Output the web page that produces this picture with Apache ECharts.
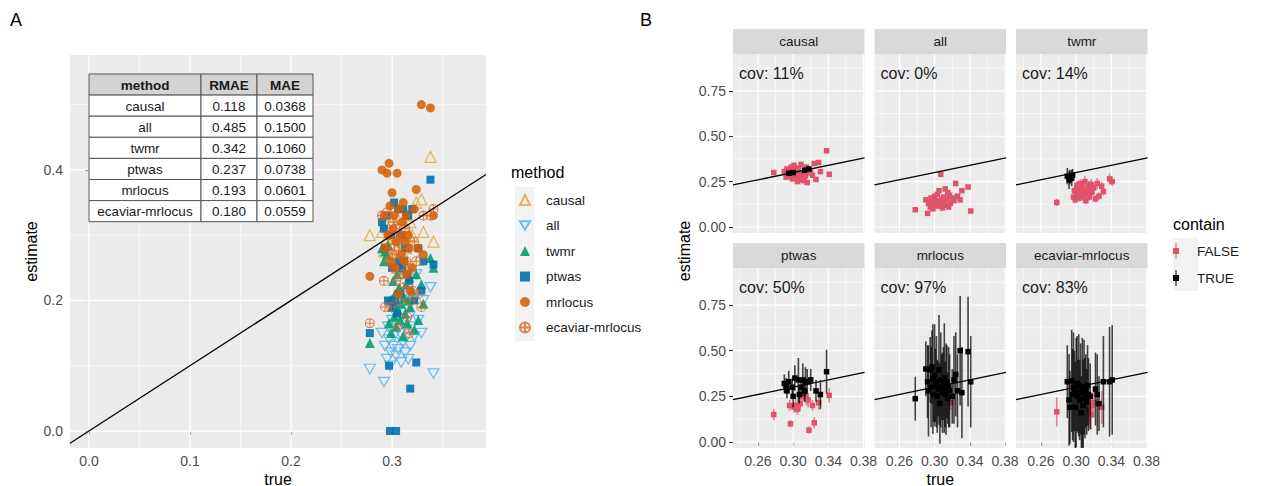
<!DOCTYPE html>
<html><head><meta charset="utf-8">
<script src="https://cdn.jsdelivr.net/npm/echarts@6/dist/echarts.min.js"></script>
<style>html,body{margin:0;padding:0;background:#fff}#c{width:1266px;height:486px}</style>
</head><body><div id="c"></div>
<script>
// ---------------- DATA ----------------
const methods = ['causal', 'all', 'twmr', 'ptwas', 'mrlocus', 'ecaviar-mrlocus'];
const tableRMAE = ['0.118', '0.485', '0.342', '0.237', '0.193', '0.180'];
const tableMAE = ['0.0368', '0.1500', '0.1060', '0.0738', '0.0601', '0.0559'];
const covLabels = ['cov: 11%', 'cov: 0%', 'cov: 14%', 'cov: 50%', 'cov: 97%', 'cov: 83%'];
const containLevels = ['FALSE', 'TRUE'];

const trueVals = [0.278,0.290,0.292,0.293,0.295,0.296,0.297,0.298,0.299,0.300,0.301,0.302,0.303,0.304,0.305,0.306,0.307,0.308,0.309,0.310,0.311,0.312,0.313,0.314,0.315,0.316,0.317,0.318,0.320,0.322,0.324,0.326,0.329,0.331,0.338,0.341];

const estCausal = [0.300,0.305,0.275,0.320,0.296,0.310,0.280,0.330,0.265,0.300,0.340,0.285,0.270,0.315,0.250,0.325,0.290,0.260,0.345,0.275,0.290,0.255,0.313,0.280,0.330,0.245,0.300,0.320,0.300,0.285,0.350,0.262,0.355,0.305,0.420,0.290];
const ciCausal = [0.007,0.007,0.007,0.007,0.007,0.007,0.007,0.007,0.007,0.007,0.007,0.007,0.007,0.007,0.007,0.007,0.007,0.007,0.007,0.007,0.007,0.007,0.007,0.007,0.007,0.007,0.007,0.007,0.007,0.007,0.007,0.007,0.007,0.007,0.007,0.007];

const estAll = [0.095,0.150,0.075,0.130,0.110,0.160,0.140,0.100,0.120,0.170,0.130,0.145,0.180,0.115,0.200,0.125,0.290,0.150,0.105,0.165,0.135,0.210,0.120,0.155,0.190,0.110,0.175,0.130,0.160,0.145,0.240,0.170,0.150,0.200,0.220,0.088];
const ciAll = [0.006,0.006,0.006,0.006,0.006,0.006,0.006,0.006,0.006,0.006,0.006,0.006,0.006,0.006,0.006,0.006,0.006,0.006,0.006,0.006,0.006,0.006,0.006,0.006,0.006,0.006,0.006,0.006,0.006,0.006,0.006,0.006,0.006,0.006,0.006,0.006];

const estTwmr = [0.135,0.280,0.260,0.275,0.270,0.285,0.165,0.200,0.150,0.190,0.230,0.175,0.210,0.160,0.240,0.185,0.220,0.170,0.195,0.250,0.145,0.205,0.180,0.225,0.165,0.200,0.235,0.190,0.215,0.155,0.240,0.170,0.225,0.195,0.265,0.250];
const ciTwmr = [0.02,0.045,0.05,0.04,0.045,0.035,0.02,0.025,0.02,0.03,0.025,0.02,0.03,0.02,0.025,0.02,0.03,0.025,0.02,0.03,0.02,0.025,0.02,0.03,0.02,0.025,0.03,0.02,0.025,0.02,0.03,0.02,0.025,0.02,0.03,0.025];

const estPtwas = [0.150,0.320,0.310,0.280,0.330,0.200,0.100,0.000,0.300,0.250,0.190,0.350,0.200,0.000,0.180,0.340,0.260,0.210,0.300,0.250,0.340,0.260,0.280,0.330,0.240,0.330,0.230,0.065,0.340,0.200,0.105,0.280,0.215,0.260,0.385,0.255];
const ciPtwas = [0.03,0.05,0.04,0.04,0.06,0.03,0.02,null,0.05,0.06,0.03,0.07,0.04,null,0.03,0.12,0.05,0.04,0.05,0.03,0.09,0.03,0.06,0.08,0.04,0.07,0.04,0.02,0.06,0.03,0.03,0.06,0.04,0.08,0.12,0.04];

const estMrlocus = [0.237,0.400,0.330,0.280,0.395,0.300,0.410,0.345,0.260,0.365,0.310,0.330,0.250,0.290,0.395,0.210,0.340,0.300,0.270,0.320,0.350,0.260,0.290,0.330,0.240,0.300,0.280,0.215,0.250,0.340,0.370,0.280,0.500,0.270,0.495,0.330];
const ciMrlocus = [0.12,0.15,0.20,0.25,0.18,0.22,0.20,0.30,0.15,0.28,0.20,0.25,0.20,0.15,0.30,0.22,0.26,0.18,0.22,0.20,0.30,0.18,0.25,0.20,0.14,0.22,0.20,0.04,0.15,0.24,0.23,0.20,0.30,0.25,0.30,0.25];

const estEcaviar = [0.165,0.330,0.230,0.190,0.335,0.260,0.300,0.280,0.190,0.270,0.320,0.250,0.310,0.230,0.290,0.160,0.270,0.200,0.300,0.240,0.280,0.220,0.310,0.260,0.175,0.250,0.150,0.200,0.215,0.290,0.260,0.210,0.190,0.330,0.330,0.340];
const ciEcaviar = [0.08,0.20,0.25,0.20,0.28,0.25,0.30,0.22,0.25,0.30,0.26,0.20,0.28,0.22,0.25,0.20,0.30,0.25,0.26,0.22,0.20,0.18,0.22,0.20,0.08,0.18,0.08,0.07,0.08,0.20,0.22,0.15,0.09,0.25,0.30,0.30];

const ablineIntercept = 0, ablineSlope = 1;

const xTicksA = [0, 0.1, 0.2, 0.3], xMinorA = [0.05, 0.15, 0.25, 0.35];
const yTicksA = [0, 0.2, 0.4], yMinorA = [0.1, 0.3, 0.5];
const xTicksB = [0.26, 0.30, 0.34, 0.38], xMinorB = [0.24, 0.28, 0.32, 0.36];
const yTicksB = [0, 0.25, 0.5, 0.75], yMinorB = [0.125, 0.375, 0.625, 0.875];

// ---------------- LAYOUT / STYLE ----------------
const FONT = 'Liberation Sans, Arial, Helvetica, sans-serif';
const estBy = [estCausal, estAll, estTwmr, estPtwas, estMrlocus, estEcaviar];
const ciBy = [ciCausal, ciAll, ciTwmr, ciPtwas, ciMrlocus, ciEcaviar];

const A = {left: 70, top: 55, width: 416, height: 393};
const aX = [-0.0188, 0.393], aY = [-0.026, 0.576];
const bCols = [733, 874.5, 1016], bW = 131.5;
const bStripTop = [29, 243], bStripH = 25;
const bPanelTop = [54, 268], bPanelH = [179, 180];
const bX = [0.2317, 0.3811], bY = [-0.033, 0.953];

const pointStyles = [
  {symbol: 'triangle', size: 11, itemStyle: {color: 'rgba(0,0,0,0)', borderColor: '#E6A52E', borderWidth: 1.2, opacity: 0.8}},
  {symbol: 'path://M0,0L2,0L1,1.732Z', size: 11, itemStyle: {color: 'rgba(0,0,0,0)', borderColor: '#56B4E9', borderWidth: 1.2, opacity: 0.85}},
  {symbol: 'triangle', size: 10, itemStyle: {color: '#009E73', opacity: 0.9}},
  {symbol: 'rect', size: 8, itemStyle: {color: '#0072B2', opacity: 0.9}},
  {symbol: 'circle', size: 9, itemStyle: {color: '#D55E00', opacity: 0.85}},
  {symbol: 'path://M1,0A1,1 0 1,1 -1,0A1,1 0 1,1 1,0ZM-1,0L1,0M0,-1L0,1', size: 9, itemStyle: {color: 'rgba(0,0,0,0)', borderColor: '#D9662A', borderWidth: 1.1, opacity: 0.8}}
];
const containColors = {FALSE: '#DF536B', TRUE: '#000000'};
const containLine = {FALSE: 'rgba(223,83,107,0.7)', TRUE: 'rgba(0,0,0,0.72)'};

const chart = echarts.init(document.getElementById('c'), null, {renderer: 'svg'});

const grids = [{left: A.left, top: A.top, width: A.width, height: A.height}];
const xAxes = [], yAxes = [], series = [], graphic = [];

function axisX(gi, r, ticks, showLabels, digits) {
  return {gridIndex: gi, type: 'value', min: r[0], max: r[1],
    axisLine: {show: false}, splitLine: {show: false},
    axisTick: {show: showLabels, length: 4, customValues: ticks, lineStyle: {color: '#333', width: 1.1}},
    axisLabel: {show: showLabels, customValues: ticks, margin: 6, color: '#4D4D4D', fontSize: 14, fontFamily: FONT,
      formatter: v => v.toFixed(digits)}};
}
function axisY(gi, r, ticks, showLabels, digits) {
  return {gridIndex: gi, type: 'value', min: r[0], max: r[1],
    axisLine: {show: false}, splitLine: {show: false},
    axisTick: {show: showLabels, length: 4, customValues: ticks, lineStyle: {color: '#333', width: 1.1}},
    axisLabel: {show: showLabels, customValues: ticks, margin: 7, color: '#4D4D4D', fontSize: 14, fontFamily: FONT,
      formatter: v => v.toFixed(digits)}};
}
function gridLineSeries(idx, xr, yr, xMaj, xMin, yMaj, yMin) {
  const items = [];
  xMin.forEach(v => items.push({v, ax: 'x', w: 0.6}));
  yMin.forEach(v => items.push({v, ax: 'y', w: 0.6}));
  xMaj.forEach(v => items.push({v, ax: 'x', w: 1.2}));
  yMaj.forEach(v => items.push({v, ax: 'y', w: 1.2}));
  return {type: 'custom', xAxisIndex: idx, yAxisIndex: idx, silent: true, z: 1, animation: false,
    data: items.map(g => g.ax === 'x' ? [g.v, yr[0]] : [xr[0], g.v]),
    renderItem(params, api) {
      const g = items[params.dataIndex], cs = params.coordSys;
      const p = api.coord([api.value(0), api.value(1)]);
      if (g.ax === 'x') return {type: 'line', shape: {x1: p[0], y1: cs.y, x2: p[0], y2: cs.y + cs.height}, style: {stroke: '#fff', lineWidth: g.w}};
      return {type: 'line', shape: {x1: cs.x, y1: p[1], x2: cs.x + cs.width, y2: p[1]}, style: {stroke: '#fff', lineWidth: g.w}};
    }};
}
function ablineSeries(idx, xr) {
  return {type: 'line', xAxisIndex: idx, yAxisIndex: idx, silent: true, animation: false, clip: true,
    data: xr.map(x => [x, ablineIntercept + ablineSlope * x]), symbol: 'none', showSymbol: false,
    lineStyle: {color: '#000', width: 1.3}, z: 5};
}

// Panel A
xAxes.push(axisX(0, aX, xTicksA, true, 1));
yAxes.push(axisY(0, aY, yTicksA, true, 1));
series.push(gridLineSeries(0, aX, aY, xTicksA, xMinorA, yTicksA, yMinorA));
methods.forEach((m, k) => {
  const st = pointStyles[k];
  series.push({type: 'scatter', name: m, xAxisIndex: 0, yAxisIndex: 0, animation: false,
    symbol: st.symbol, symbolSize: st.size, symbolKeepAspect: true, itemStyle: st.itemStyle, z: 3,
    emphasis: {disabled: true},
    data: trueVals.map((t, i) => [t, estBy[k][i]])});
});
series.push(ablineSeries(0, aX));

// Panel B facets
methods.forEach((m, k) => {
  const row = Math.floor(k / 3), col = k % 3, gi = k + 1;
  grids.push({left: bCols[col], top: bPanelTop[row], width: bW, height: bPanelH[row]});
  xAxes.push(axisX(gi, bX, xTicksB, row === 1, 2));
  yAxes.push(axisY(gi, bY, yTicksB, col === 0, 2));
  series.push(gridLineSeries(gi, bX, bY, xTicksB, xMinorB, yTicksB, yMinorB));
  containLevels.forEach(level => {
    const data = [];
    trueVals.forEach((t, i) => {
      const h = ciBy[k][i];
      if (h == null) return;
      const lo = estBy[k][i] - h, hi = estBy[k][i] + h;
      const c = (lo <= t && t <= hi) ? 'TRUE' : 'FALSE';
      if (c === level) data.push([t, estBy[k][i], lo, hi]);
    });
    series.push({type: 'custom', name: level, xAxisIndex: gi, yAxisIndex: gi, clip: true, animation: false, z: 3,
      itemStyle: {color: containColors[level]},
      data,
      renderItem(params, api) {
        const x = api.value(0), y = api.value(1);
        const p = api.coord([x, y]), a = api.coord([x, api.value(2)]), b = api.coord([x, api.value(3)]);
        const s = 5.5;
        return {type: 'group', children: [
          {type: 'line', shape: {x1: p[0], y1: a[1], x2: p[0], y2: b[1]}, style: {stroke: containLine[level], lineWidth: 1.6}},
          {type: 'rect', shape: {x: p[0] - s / 2, y: p[1] - s / 2, width: s, height: s}, style: {fill: containColors[level]}}
        ]};
      }});
  });
  series.push(ablineSeries(gi, bX));
  // strip
  graphic.push({type: 'rect', z: 10, shape: {x: bCols[col], y: bStripTop[row], width: bW, height: bStripH}, style: {fill: '#D9D9D9'}});
  graphic.push({type: 'text', z: 11, x: bCols[col] + bW / 2, y: bStripTop[row] + bStripH / 2,
    style: {text: m, fontSize: 13.5, fontFamily: FONT, fill: '#1A1A1A', align: 'center', verticalAlign: 'middle'}});
  graphic.push({type: 'text', z: 11, x: bCols[col] + 6, y: bPanelTop[row] + 19,
    style: {text: covLabels[k], fontSize: 16, fontFamily: FONT, fill: '#1A1A1A', align: 'left', verticalAlign: 'middle'}});
});

// Table in panel A
const colEdges = [89, 201, 257, 313];
const rowTop = 74, rowH = 21.1;
const header = ['method', 'RMAE', 'MAE'];
const rows = methods.map((m, i) => [m, tableRMAE[i], tableMAE[i]]);
[header].concat(rows).forEach((r, ri) => {
  r.forEach((cell, ci) => {
    const x = colEdges[ci], w = colEdges[ci + 1] - colEdges[ci], y = rowTop + ri * rowH;
    graphic.push({type: 'rect', z: 10, shape: {x, y, width: w, height: rowH},
      style: {fill: ri === 0 ? '#D3D3D3' : '#FFFFFF', stroke: '#555', lineWidth: 1}});
    graphic.push({type: 'text', z: 11, x: x + w / 2, y: y + rowH / 2 + 0.5,
      style: {text: cell, fontSize: 13.5, fontWeight: ri === 0 ? 'bold' : 'normal', fontFamily: FONT,
        fill: '#1A1A1A', align: 'center', verticalAlign: 'middle'}});
  });
});

// Titles and labels
const txt = (text, x, y, size, extra) => Object.assign({type: 'text', z: 11, x, y,
  style: {text, fontSize: size, fontFamily: FONT, fill: '#000', align: 'center', verticalAlign: 'middle'}}, extra || {});
graphic.push(txt('A', 16, 20, 18));
graphic.push(txt('B', 646, 20, 18));
graphic.push(txt('true', A.left + A.width / 2, 479, 16));
graphic.push(txt('estimate', 31, A.top + A.height / 2, 16, {rotation: Math.PI / 2}));
graphic.push(txt('true', bCols[1] + bW / 2, 479, 16));
graphic.push(txt('estimate', 684, (bPanelTop[0] + bPanelTop[1] + bPanelH[1]) / 2, 16, {rotation: Math.PI / 2}));
graphic.push({type: 'text', z: 11, x: 511, y: 172, style: {text: 'method', fontSize: 16, fontFamily: FONT, fill: '#000', align: 'left', verticalAlign: 'middle'}});
graphic.push({type: 'text', z: 11, x: 1173, y: 224, style: {text: 'contain', fontSize: 16, fontFamily: FONT, fill: '#000', align: 'left', verticalAlign: 'middle'}});
graphic.push({type: 'rect', z: 0, shape: {x: 515, y: 187, width: 19, height: 154}, style: {fill: '#F2F2F2'}});
graphic.push({type: 'rect', z: 0, shape: {x: 1173, y: 238, width: 25, height: 53}, style: {fill: '#F2F2F2'}});

const rangeIcon = 'path://M2.5,0H3.5V5H6V11H3.5V16H2.5V11H0V5H2.5Z';

chart.setOption({
  animation: false,
  backgroundColor: '#fff',
  grid: grids.map(g => Object.assign({show: true, backgroundColor: '#EBEBEB', borderWidth: 0, containLabel: false, outerBoundsMode: 'none'}, g)),
  xAxis: xAxes,
  yAxis: yAxes,
  legend: [
    {orient: 'vertical', left: 519, top: 192, padding: 0, itemWidth: 10, itemHeight: 10, itemGap: 9.5, selectedMode: false,
      data: methods, textStyle: {fontSize: 13.5, fontFamily: FONT, color: '#1A1A1A', lineHeight: 16, padding: [0, 0, 0, 11]}},
    {orient: 'vertical', left: 1173, top: 243, padding: 0, itemWidth: 26, itemHeight: 16, itemGap: 11, selectedMode: false,
      data: containLevels.map(l => ({name: l, icon: rangeIcon, itemStyle: {color: containColors[l]}})),
      textStyle: {fontSize: 13.5, fontFamily: FONT, color: '#1A1A1A', lineHeight: 16, padding: [0, 0, 0, 3]}}
  ],
  series,
  graphic
});
</script>
</body></html>
